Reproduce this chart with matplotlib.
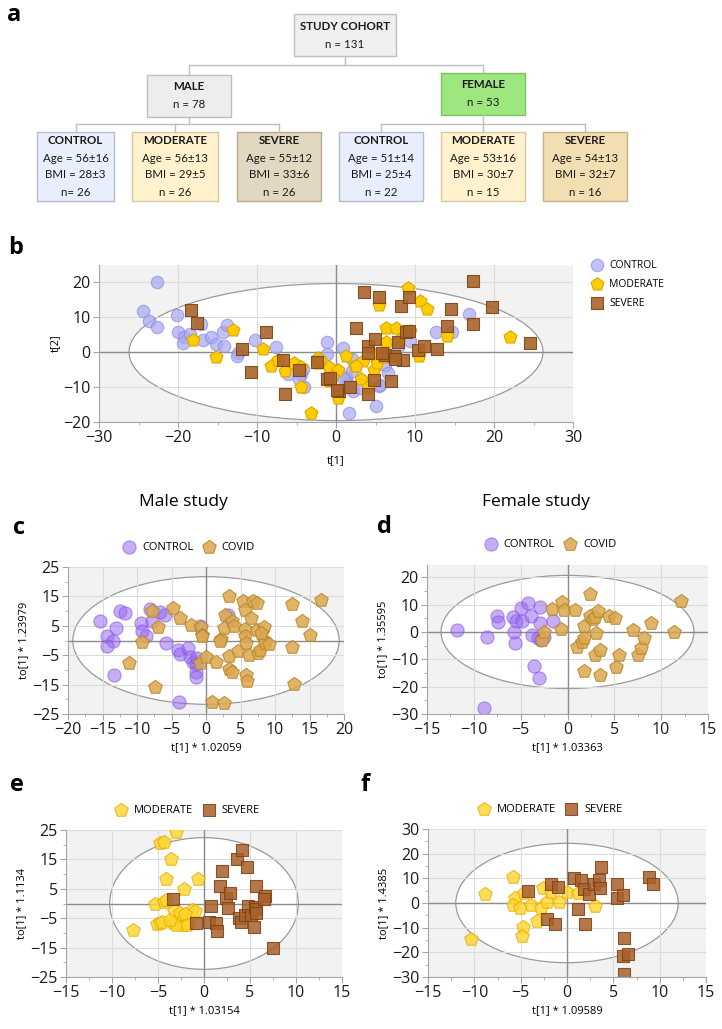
import matplotlib.pyplot as plt
from matplotlib.patches import Ellipse, Rectangle
from matplotlib.ticker import MultipleLocator

plt.rcParams['font.family'] = ['Open Sans', 'DejaVu Sans']

W, H = 722, 1029

# ---- panel a: cohort numbers
cohort_n = 131
male_n, female_n = 78, 53
groups = ['CONTROL', 'MODERATE', 'SEVERE']
male_age = ['56±16', '56±13', '55±12']
male_bmi = ['28±3', '29±5', '33±6']
male_cnt = ['n= 26', 'n = 26', 'n = 26']
female_age = ['51±14', '53±16', '54±13']
female_bmi = ['25±4', '30±7', '32±7']
female_cnt = ['n = 22', 'n = 15', 'n = 16']

# ---- panel b: all samples, t[1] vs t[2]
b_control = [(-22.6, 20.0), (-24.4, 11.8), (-23.7, 9.0), (-22.6, 7.3), (-20.1, 10.6), (-20.0, 5.8),
             (-19.3, 4.3), (-19.4, 2.5), (-18.5, 5.3), (-17.1, 7.9), (-16.8, 3.4), (-15.8, 4.4),
             (-15.2, 2.3), (-14.2, 1.6), (-14.3, 5.6), (-13.8, 7.7), (-12.4, -0.4), (-12.5, -1.1),
             (-10.3, 3.4), (-7.6, 1.5), (-6.1, -6.2), (-4.2, -4.8), (-4.4, -6.3), (-4.7, -7.6),
             (-4.1, -9.9), (-1.1, 3.0), (-1.2, -0.5), (0.9, 1.3), (1.3, -7.2), (1.5, -9.2),
             (2.1, -11.0), (1.7, -17.3), (2.0, -2.0), (5.4, -9.6), (5.1, -15.5), (6.2, -3.8),
             (6.3, -0.8), (7.8, 1.4), (9.4, 3.2), (12.6, 5.6), (14.7, 5.6), (16.8, 10.8),
             (2.0, -5.4), (3.0, -10.4), (5.6, -9.4), (1.0, -7.8), (6.6, -6.0)]
b_moderate = [(-13.0, 6.2), (-18.1, 3.5), (-15.2, -1.4), (-9.3, 1.0), (-8.2, -4.0), (-6.4, -5.5),
              (-7.4, -2.3), (-5.3, -3.1), (-4.4, -4.4), (-4.4, -10.0), (-3.2, -17.4), (-2.3, -1.6),
              (-2.3, -3.0), (-0.9, -4.4), (-0.9, -8.2), (0.3, -5.0), (0.3, -13.1), (1.3, -1.1),
              (2.4, -3.9), (3.4, -2.5), (3.2, -7.6), (4.1, -10.0), (4.8, -5.2), (4.9, -0.8),
              (5.2, -3.0), (5.5, 13.5), (6.3, 7.0), (6.3, 2.9), (7.6, 6.8), (9.1, 18.4),
              (9.4, 6.1), (10.6, 14.6), (11.5, 12.4), (10.5, -1.1), (14.0, 4.5), (22.0, 4.3),
              (2.5, -4.0), (-0.5, -7.2), (6.0, -1.5), (8.0, 3.5), (-2.0, -2.2)]
b_severe = [(-18.4, 12.1), (-17.6, 8.4), (-8.8, 5.6), (-11.9, 0.9), (-10.8, -5.6), (-6.4, -12.0),
            (-6.7, -2.3), (-4.7, -5.0), (-2.4, -2.8), (-1.2, -7.6), (0.4, -11.2), (1.8, -10.0),
            (2.5, 7.0), (3.5, 17.1), (4.1, 1.6), (4.9, 3.7), (5.5, 15.8), (4.1, -12.0),
            (4.8, -8.1), (7.0, -8.3), (7.3, -1.1), (7.9, 2.8), (8.2, 13.2), (8.5, -2.4),
            (8.8, 5.6), (9.3, 15.8), (10.4, 0.5), (11.1, 1.8), (12.8, 1.0), (14.1, 7.5),
            (14.6, 12.4), (17.4, 7.9), (17.4, 20.3), (19.7, 13.0), (24.5, 2.7), (6.2, -0.9),
            (9.3, 6.0), (0.1, -10.9), (-0.8, -7.4), (5.8, -0.3), (4.0, -0.2), (7.5, -2.0)]

# ---- panel c: male, control vs covid
c_control = [(-15.3, 6.8), (-14.3, 1.4), (-13.1, 4.2), (-13.5, 0.0), (-14.4, -1.8), (-13.4, -11.7),
             (-12.5, 10.1), (-11.8, 9.3), (-9.4, 5.9), (-9.3, 3.1), (-8.7, 1.4), (-8.1, 10.7),
             (-7.8, 6.5), (-6.6, 9.6), (-6.0, 8.8), (-5.8, -0.9), (-4.0, -3.4), (-3.7, -4.6),
             (-2.6, -2.6), (-2.3, -5.5), (-1.9, -7.2), (-1.5, -8.0), (-1.5, -10.6), (-1.5, -12.3),
             (-1.3, -6.0), (-0.8, 5.0), (3.2, 8.8), (-3.9, -20.8)]
c_covid = [(-7.8, 9.9), (-4.8, 11.0), (-3.7, 7.6), (-7.0, 4.6), (-9.3, -0.6), (-11.1, -7.7),
           (-7.4, -15.7), (-2.2, 5.4), (-0.7, 4.6), (-0.6, 1.9), (-0.6, 1.4), (-0.8, -7.5),
           (0.0, -5.7), (1.5, -7.2), (2.2, 0.5), (2.1, 0.0), (0.9, -20.8), (2.6, -21.4),
           (2.6, 4.2), (2.8, 8.8), (3.4, 15.0), (3.3, -5.2), (3.4, -9.8), (3.7, -10.6),
           (3.8, 6.8), (4.0, 5.0), (4.6, -3.5), (5.4, 13.3), (5.6, 10.5), (5.7, 3.9),
           (5.7, 1.4), (5.8, -0.9), (6.2, -4.9), (5.8, -11.7), (6.0, -13.7), (6.5, 7.6),
           (6.8, 13.6), (7.4, 12.8), (7.4, 3.6), (7.6, -4.3), (7.8, -3.2), (8.4, 4.6),
           (8.4, 0.2), (8.6, -0.9), (9.2, -1.1), (12.5, 12.5), (12.5, -2.1), (12.7, -14.8),
           (13.9, 6.8), (15.0, 1.9), (16.6, 13.9), (7.9, 2.5)]

# ---- panel d: female, control vs covid
d_control = [(-11.8, 0.6), (-8.6, -1.8), (-8.9, -27.9), (-7.5, 6.0), (-7.4, 3.6), (-5.8, 5.5),
             (-5.7, -0.1), (-5.6, -4.0), (-5.5, 3.9), (-5.0, 8.7), (-4.9, 3.9), (-4.2, 10.6),
             (-3.9, 5.7), (-3.8, -1.0), (-3.6, -12.3), (-3.0, -16.8), (-2.9, 9.1), (-2.9, 3.3),
             (-3.2, -2.2), (-2.8, -2.8), (-1.6, 3.9), (-2.5, -1.8)]
d_covid = [(-2.7, -3.0), (-2.5, -0.1), (-1.7, 8.4), (-0.7, 1.1), (-0.6, 10.8), (-0.4, 7.9),
           (0.8, 7.9), (1.0, -5.5), (1.6, -3.8), (1.8, -2.2), (1.8, 2.3), (1.8, -14.1),
           (2.4, 14.0), (2.4, 6.0), (2.7, 4.7), (2.9, 5.5), (3.0, -0.4), (2.9, -8.6),
           (3.3, 7.5), (3.5, -6.7), (3.5, -15.9), (4.4, 6.0), (5.1, 5.1), (5.2, -12.9),
           (5.5, -8.3), (7.0, 0.6), (7.5, -8.3), (7.8, -5.8), (8.2, -2.2), (8.9, 3.3),
           (11.4, -0.1), (12.1, 11.2)]

# ---- panel e: male, moderate vs severe
e_moderate = [(-3.0, 24.4), (-4.8, 20.7), (-4.3, 21.0), (-3.6, 15.0), (-4.1, 8.2), (-0.7, 8.5),
              (-2.2, 5.1), (-5.3, 0.0), (-4.3, 0.6), (-4.1, 1.1), (-7.7, -8.9), (-5.1, -7.0),
              (-4.8, -6.8), (-4.6, -6.3), (-3.3, -2.5), (-3.4, -6.8), (-2.6, -3.4), (-2.4, -5.7),
              (-2.3, -7.4), (-1.7, -6.8), (-1.3, -2.3), (-1.0, -2.5), (-2.1, -3.6), (-3.0, -7.4),
              (-3.7, -5.7), (-1.9, -7.4)]
e_severe = [(-3.4, 1.4), (-0.9, -6.8), (0.5, -6.3), (0.8, -0.8), (1.3, -6.6), (1.4, -9.3),
            (1.7, 5.9), (2.0, 11.1), (2.4, 2.0), (2.8, 3.6), (2.6, -1.7), (3.6, 15.3),
            (4.1, 18.2), (3.8, -5.1), (4.0, -6.3), (4.7, 12.5), (4.5, -4.0), (4.8, -0.9),
            (5.1, -4.0), (5.4, -8.0), (5.5, -1.1), (5.6, 6.0), (5.7, -2.0), (5.7, -3.4),
            (6.6, 2.5), (6.5, 1.4), (7.5, -15.0)]

# ---- panel f: female, moderate vs severe
f_moderate = [(-10.4, -14.6), (-8.8, 3.5), (-5.8, 10.4), (-5.6, 2.2), (-5.8, -1.0), (-5.1, -1.9),
              (-4.8, -9.8), (-4.9, -13.2), (-4.6, 4.1), (-3.9, -1.0), (-3.2, -7.4), (-2.8, -1.9),
              (-2.6, 5.9), (-2.2, 0.4), (-1.7, 4.5), (-0.9, 0.4), (0.0, 4.5), (1.2, 4.1),
              (3.0, -1.4)]
f_severe = [(-4.2, 4.8), (-2.2, -6.4), (-1.7, 7.6), (-1.3, -8.5), (-1.0, 6.3), (0.8, 10.0),
            (1.5, 9.5), (1.2, -2.3), (1.8, 5.5), (1.9, -8.5), (2.4, 3.5), (2.9, 7.9),
            (3.4, 9.3), (3.6, 5.9), (3.7, 14.5), (5.4, 7.9), (5.4, 2.2), (6.0, 3.1),
            (6.2, -14.2), (6.0, -21.4), (6.6, -20.5), (6.1, -28.6), (8.9, 10.4), (9.3, 7.9)]

# Hotelling ellipse half-axes (x, y)
ell_b, ell_c, ell_d, ell_e, ell_f = (26.2, 19.6), (19.3, 21.7), (13.5, 20.7), (10.25, 22.4), (12.0, 24.2)


def px(x, y):
    return x / W, 1 - y / H


fig = plt.figure(figsize=(W / 100, H / 100), dpi=100)

# ---------------- panel a (flow chart, pixel coordinates)
bg = fig.add_axes([0, 0, 1, 1])
bg.set_xlim(0, W)
bg.set_ylim(H, 0)
bg.axis('off')

ffam = ['Lato', 'DejaVu Sans']


def box(x0, x1, y0, y1, fc, ec, lines, ys):
    bg.add_patch(Rectangle((x0, y0), x1 - x0, y1 - y0, fc=fc, ec=ec, lw=1))
    for i, (t, yy) in enumerate(zip(lines, ys)):
        bg.text((x0 + x1) / 2, yy, t, ha='center', va='center', fontsize=8.3,
                family=ffam, fontweight='bold' if i == 0 else 'normal', color='#1a1a1a')


lc = '#BDBDBD'
bg.plot([345, 345, 189, 189], [56, 65, 65, 75], color=lc, lw=1)
bg.plot([345, 483, 483], [65, 65, 73], color=lc, lw=1)
bg.plot([189, 189], [117, 124], color=lc, lw=1)
bg.plot([75.5, 279], [124, 124], color=lc, lw=1)
bg.plot([483, 483], [115, 124], color=lc, lw=1)
bg.plot([381, 585], [124, 124], color=lc, lw=1)

box(294, 396, 14, 56, '#EFEFEF', '#BFBFBF', ['STUDY COHORT', 'n = %d' % cohort_n], [26, 44])
box(147, 231, 75, 117, '#EDEDED', '#BFBFBF', ['MALE', 'n = %d' % male_n], [87, 104])
box(441, 525, 73, 115, '#9DE680', '#7FC266', ['FEMALE', 'n = %d' % female_n], [85, 102])

male_x = [(37, 114), (132, 218), (237, 321)]
female_x = [(339, 423), (441, 525), (543, 627)]
male_fc = [('#E8EEFC', '#B4BCD2'), ('#FFF2CC', '#D8C8A0'), ('#E2D7C1', '#B8A98C')]
female_fc = [('#E8EEFC', '#B4BCD2'), ('#FFF2CC', '#D8C8A0'), ('#F3DEB1', '#C9B185')]
rows = [140, 158, 175, 192]
for i in range(3):
    cx = (male_x[i][0] + male_x[i][1]) / 2
    bg.plot([cx, cx], [124, 132], color=lc, lw=1)
    box(male_x[i][0], male_x[i][1], 132, 201, male_fc[i][0], male_fc[i][1],
        [groups[i], 'Age = ' + male_age[i], 'BMI = ' + male_bmi[i], male_cnt[i]], rows)
    cx = (female_x[i][0] + female_x[i][1]) / 2
    bg.plot([cx, cx], [124, 132], color=lc, lw=1)
    box(female_x[i][0], female_x[i][1], 132, 201, female_fc[i][0], female_fc[i][1],
        [groups[i], 'Age = ' + female_age[i], 'BMI = ' + female_bmi[i], female_cnt[i]], rows)

# panel letters and titles
for lab, (x, y) in zip('abcdef', [(14, 15), (16, 248), (19, 528), (384, 527), (17, 785), (365, 785)]):
    fig.text(*px(x, y), lab, fontsize=17, fontweight='bold', ha='center', va='center')
fig.text(*px(183, 502), 'Male study', fontsize=12.5, ha='center', va='center')
fig.text(*px(536, 502), 'Female study', fontsize=12.5, ha='center', va='center')


# ---------------- score plots
def score_axes(l, r, t, b, xlim, ylim, xstep, ystep, ell):
    ax = fig.add_axes([l / W, 1 - b / H, (r - l) / W, (b - t) / H])
    ax.set_facecolor('#F2F2F2')
    ax.add_patch(Ellipse((0, 0), 2 * ell[0], 2 * ell[1], fc='white', ec='#9A9A9A', lw=0.9, zorder=0.3))
    ax.set_axisbelow(True)
    ax.grid(True, color='#DCDCDC', lw=0.8)
    ax.axhline(0, color='#8C8C8C', lw=1, zorder=1)
    ax.axvline(0, color='#8C8C8C', lw=1, zorder=1)
    ax.set_xlim(*xlim)
    ax.set_ylim(*ylim)
    ax.xaxis.set_major_locator(MultipleLocator(xstep))
    ax.xaxis.set_minor_locator(MultipleLocator(xstep / 2))
    ax.yaxis.set_major_locator(MultipleLocator(ystep))
    ax.yaxis.set_minor_locator(MultipleLocator(ystep / 2))
    for s in ['top', 'right']:
        ax.spines[s].set_visible(False)
    for s in ['left', 'bottom']:
        ax.spines[s].set_color('#A6A6A6')
    ax.tick_params(which='major', length=4, color='#A6A6A6', labelsize=11.5, labelcolor='#1a1a1a', pad=2)
    ax.tick_params(which='minor', length=2.5, color='#A6A6A6')
    return ax


def dots(ax, pts, **kw):
    ax.scatter([p[0] for p in pts], [p[1] for p in pts], zorder=2, **kw)


# b
axb = score_axes(99, 573, 265, 422, (-30, 30), (-20, 24.9), 10, 10, ell_b)
axb.yaxis.set_minor_locator(MultipleLocator(10))
dots(axb, b_control, marker='o', s=80, fc='#A7A7F2', ec='#8A8AE4', lw=0.8, alpha=0.7, label='CONTROL')
dots(axb, b_moderate, marker='p', s=95, fc='#FFCC00', ec='#DDA500', lw=0.8, label='MODERATE')
dots(axb, b_severe, marker='s', s=72, fc='#A9642A', ec='#7B4515', lw=0.8, alpha=0.9, label='SEVERE')
axb.set_xlabel('t[1]', fontsize=8, labelpad=6)
axb.set_ylabel('t[2]', fontsize=8, labelpad=2)
axb.legend(loc='upper left', bbox_to_anchor=px(582, 256), bbox_transform=fig.transFigure,
           frameon=False, fontsize=7.5, handletextpad=0.2, labelspacing=0.75, borderaxespad=0)

# c
axc = score_axes(68, 344, 567, 714, (-20, 20), (-25, 25), 5, 10, ell_c)
axc.set_yticks([-25, -15, -5, 5, 15, 25])
axc.yaxis.set_minor_locator(MultipleLocator(5))
dots(axc, c_control, marker='o', s=90, fc='#9A6AF0', ec='#7E50E0', lw=0.8, alpha=0.55, label='CONTROL')
dots(axc, c_covid, marker='p', s=105, fc='#DCA84E', ec='#B5862E', lw=0.8, alpha=0.85, label='COVID')
axc.set_xlabel('t[1] * 1.02059', fontsize=8, labelpad=3)
axc.set_ylabel('to[1] * 1.23979', fontsize=8, labelpad=2)

# d
axd = score_axes(427, 708, 565, 714, (-15, 15), (-30, 24.5), 5, 10, ell_d)
dots(axd, d_control, marker='o', s=90, fc='#9A6AF0', ec='#7E50E0', lw=0.8, alpha=0.55, label='CONTROL')
dots(axd, d_covid, marker='p', s=105, fc='#DCA84E', ec='#B5862E', lw=0.8, alpha=0.85, label='COVID')
axd.set_xlabel('t[1] * 1.03363', fontsize=8, labelpad=3)
axd.set_ylabel('to[1] * 1.35595', fontsize=8, labelpad=2)

# e
axe = score_axes(66, 342, 830, 977, (-15, 15), (-25, 25), 5, 10, ell_e)
axe.set_yticks([-25, -15, -5, 5, 15, 25])
axe.yaxis.set_minor_locator(MultipleLocator(5))
dots(axe, e_moderate, marker='p', s=105, fc='#FFD52E', ec='#E6B000', lw=0.8, alpha=0.8, label='MODERATE')
dots(axe, e_severe, marker='s', s=85, fc='#A8612A', ec='#7A4015', lw=0.8, alpha=0.85, label='SEVERE')
axe.set_xlabel('t[1] * 1.03154', fontsize=8, labelpad=3)
axe.set_ylabel('to[1] * 1.1134', fontsize=8, labelpad=2)

# f
axf = score_axes(428, 706, 829, 977, (-15, 15), (-30, 30), 5, 10, ell_f)
dots(axf, f_moderate, marker='p', s=105, fc='#FFD52E', ec='#E6B000', lw=0.8, alpha=0.8, label='MODERATE')
dots(axf, f_severe, marker='s', s=85, fc='#A8612A', ec='#7A4015', lw=0.8, alpha=0.85, label='SEVERE')
axf.set_xlabel('t[1] * 1.09589', fontsize=8, labelpad=3)
axf.set_ylabel('to[1] * 1.4385', fontsize=8, labelpad=2)

for ax in [axc, axd, axe, axf]:
    ax.legend(loc='center', bbox_to_anchor=(0.43, 1.135),
              ncol=2, frameon=False, fontsize=8, handletextpad=0.15, columnspacing=0.4,
              borderaxespad=0)

fig.savefig('out.png', dpi=100)
